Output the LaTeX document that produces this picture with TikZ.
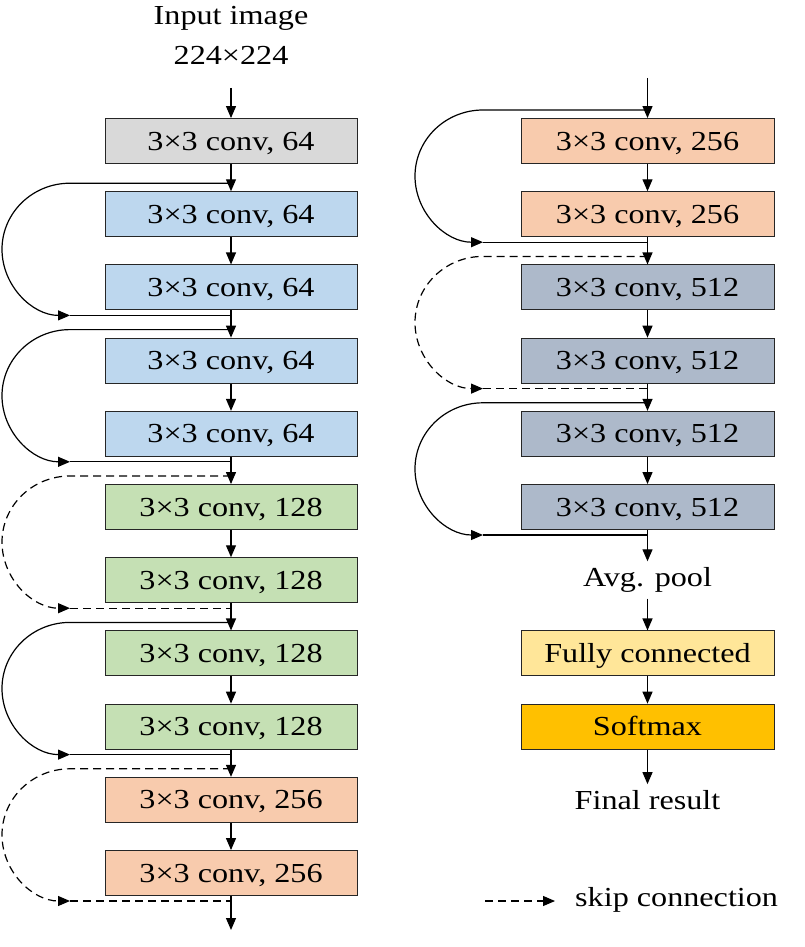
\documentclass[tikz,border=0pt]{standalone}
\usepackage{fontspec}
\setmainfont{Liberation Serif}[FakeStretch=1.17]
\usetikzlibrary{arrows.meta}
\definecolor{cgray}{HTML}{D9D9D9}
\definecolor{cblue}{HTML}{BDD7EE}
\definecolor{cgreen}{HTML}{C5E0B4}
\definecolor{corange}{HTML}{F8CBAD}
\definecolor{cslate}{HTML}{ADB9CA}
\definecolor{cyellow}{HTML}{FFE699}
\definecolor{cgold}{HTML}{FFC000}
\newcommand\skipc[7]{% #1 style, #2 start name, #3 end name, #4 xc, #5 ys, #6 ye, #7 xl
  \pgfmathsetmacro\myym{(#5+#6)/2}
  \pgfmathsetmacro\myry{(#6-#5)/2*0.5523}
  \coordinate (#2) at (#4,#5);
  \coordinate (#3) at (#4,#6);
  \draw[#1,-{Triangle[length=12pt,width=10pt]}] (#2) -- (#7,#5) .. controls ({#7-37.6},#5) and ({#7-68},{\myym-\myry}) .. ({#7-68},\myym) .. controls ({#7-68},{\myym+\myry}) and ({#7-37.6},#6) .. (#7,#6);
  \draw[#1] (#7,#6) -- (#3);
}
\begin{document}
\begin{tikzpicture}[x=1pt,y=-1pt,
  box/.style={draw=black!85, line width=0.9pt, minimum width=252pt, minimum height=45pt, inner sep=0pt, text depth=0pt, text height=18pt, font=\fontsize{27.5}{30}\selectfont},
  lbl/.style={font=\fontsize{27.5}{30}\selectfont, inner sep=2pt},
  arr/.style={line width=1.2pt, -{Triangle[length=12pt,width=10pt]}},
  ln/.style={line width=1.2pt},
  dsh/.style={line width=1.2pt, dash pattern=on 8pt off 5pt}]
\useasboundingbox (0,0) rectangle (804,947);
% left column
\node[lbl] (in1) at (231,18) {Input image};
\node[lbl] (in2) at (231,55) {224×224};
\coordinate (inarr) at (231,88);
\node[box, fill=cgray]   (L1)  at (231,141)   {3×3 conv, 64};
\node[box, fill=cblue]   (L2)  at (231,214.2) {3×3 conv, 64};
\node[box, fill=cblue]   (L3)  at (231,287.4) {3×3 conv, 64};
\node[box, fill=cblue]   (L4)  at (231,360.6) {3×3 conv, 64};
\node[box, fill=cblue]   (L5)  at (231,433.8) {3×3 conv, 64};
\node[box, fill=cgreen]  (L6)  at (231,507)   {3×3 conv, 128};
\node[box, fill=cgreen]  (L7)  at (231,580.2) {3×3 conv, 128};
\node[box, fill=cgreen]  (L8)  at (231,653.4) {3×3 conv, 128};
\node[box, fill=cgreen]  (L9)  at (231,726.6) {3×3 conv, 128};
\node[box, fill=corange] (L10) at (231,799.8) {3×3 conv, 256};
\node[box, fill=corange] (L11) at (231,873)   {3×3 conv, 256};
\coordinate (lend) at (231,930);
\draw[arr] (inarr) -- (L1);
\foreach \a/\b in {L1/L2,L2/L3,L3/L4,L4/L5,L5/L6,L6/L7,L7/L8,L8/L9,L9/L10,L10/L11,L11/lend}
  \draw[arr] (\a) -- (\b);
\skipc{ln}{ls1}{le1}{231}{183.2}{315.4}{70}
\skipc{ln}{ls2}{le2}{231}{329.6}{461.8}{70}
\skipc{dsh}{ls3}{le3}{231}{476}{608.2}{70}
\skipc{ln}{ls4}{le4}{231}{622.4}{754.6}{70}
\skipc{dsh}{ls5}{le5}{231}{768.8}{901}{70}
% right column
\coordinate (rtop) at (647.5,78);
\node[box, fill=corange, minimum width=253pt] (R1) at (647.5,141)   {3×3 conv, 256};
\node[box, fill=corange, minimum width=253pt] (R2) at (647.5,214.2) {3×3 conv, 256};
\node[box, fill=cslate,  minimum width=253pt] (R3) at (647.5,287.4) {3×3 conv, 512};
\node[box, fill=cslate,  minimum width=253pt] (R4) at (647.5,360.6) {3×3 conv, 512};
\node[box, fill=cslate,  minimum width=253pt] (R5) at (647.5,433.8) {3×3 conv, 512};
\node[box, fill=cslate,  minimum width=253pt] (R6) at (647.5,507)   {3×3 conv, 512};
\node[lbl, inner sep=6pt] (avg) at (647.5,580) {Avg. pool};
\node[box, fill=cyellow, minimum width=253pt] (fc) at (647.5,653.4) {Fully connected};
\node[box, fill=cgold,   minimum width=253pt] (sm) at (647.5,726.6) {Softmax};
\node[lbl, inner sep=6pt] (fin) at (647.5,800) {Final result};
\draw[arr] (rtop) -- (R1);
\foreach \a/\b in {R1/R2,R2/R3,R3/R4,R4/R5,R5/R6,R6/avg,avg/fc,fc/sm,sm/fin}
  \draw[arr] (\a) -- (\b);
\skipc{ln}{rs1}{re1}{647.5}{110}{242.2}{483}
\skipc{dsh}{rs2}{re2}{647.5}{256.4}{388.6}{483}
\skipc{ln}{rs3}{re3}{647.5}{402.8}{535}{483}
% legend
\coordinate (lg1) at (485,901);
\node[lbl, anchor=west, inner sep=0pt] (lgt) at (575,900) {skip connection};
\draw[dsh, -{Triangle[length=12pt,width=10pt]}] (lg1) -- (555,901);
\end{tikzpicture}
\end{document}
